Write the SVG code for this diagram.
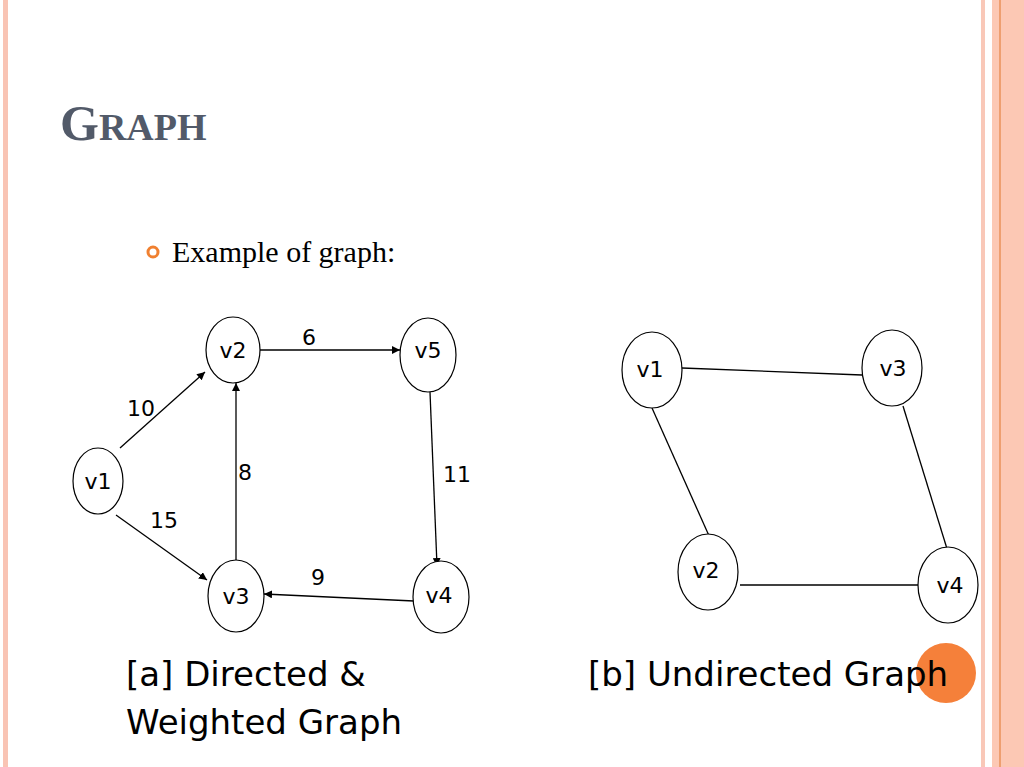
<svg xmlns="http://www.w3.org/2000/svg" width="1024" height="767" viewBox="0 0 1024 767">
<defs>
<style>
.n{fill:#fff;stroke:#000;stroke-width:1.2}
.t{font-family:"DejaVu Sans",sans-serif;font-size:22px;fill:#000}
.e{stroke:#000;stroke-width:1.3;fill:none}
.big{font-family:"DejaVu Sans",sans-serif;font-size:34px;fill:#000}
</style>
<marker id="a" viewBox="0 0 10 10" refX="10" refY="5" markerWidth="8" markerHeight="8" orient="auto" markerUnits="userSpaceOnUse"><path d="M0,0L10,5L0,10z" fill="#000"/></marker>
</defs>
<rect width="1024" height="767" fill="#fff"/>
<rect x="3" y="0" width="5" height="767" fill="#f9c4b4"/>
<rect x="981" y="0" width="4" height="767" fill="#f9c8b8"/>
<rect x="992" y="0" width="32" height="767" fill="#fcc8b4"/>
<rect x="999" y="0" width="2" height="767" fill="#ee9f70"/>
<text x="60" y="140" font-family="Liberation Serif,serif" font-weight="bold" fill="#525a69"><tspan font-size="50">G</tspan><tspan font-size="38">RAPH</tspan></text>
<circle cx="153" cy="252" r="5" fill="none" stroke="#f08030" stroke-width="3"/>
<text x="172" y="262" font-family="Liberation Serif,serif" font-size="30" fill="#000">Example of graph:</text>
<g id="connectors">
<line class="e" x1="120" y1="448" x2="205" y2="372" marker-end="url(#a)"/>
<line class="e" x1="116" y1="515" x2="207" y2="580" marker-end="url(#a)"/>
<line class="e" x1="236" y1="562" x2="236" y2="383" marker-end="url(#a)"/>
<line class="e" x1="260" y1="350" x2="400" y2="350" marker-end="url(#a)"/>
<line class="e" x1="430" y1="392" x2="437" y2="566" marker-end="url(#a)"/>
<line class="e" x1="414" y1="601" x2="264" y2="594" marker-end="url(#a)"/>
<line class="e" x1="682" y1="368" x2="862" y2="375"/>
<line class="e" x1="652" y1="408" x2="710" y2="538"/>
<line class="e" x1="903" y1="406" x2="948" y2="552"/>
<line class="e" x1="740" y1="585" x2="918" y2="585"/>
</g>
<g id="weights" class="t">
<text x="302" y="345">6</text><text x="127" y="416">10</text><text x="238" y="480">8</text>
<text x="150" y="528">15</text><text x="443" y="482">11</text><text x="311" y="585">9</text>
</g>
<g id="a-v2"><ellipse class="n" cx="233" cy="350" rx="27" ry="33"/><text class="t" x="233" y="358" text-anchor="middle">v2</text></g>
<g id="a-v5"><ellipse class="n" cx="428" cy="355" rx="28" ry="37"/><text class="t" x="428" y="358" text-anchor="middle">v5</text></g>
<g id="a-v1"><ellipse class="n" cx="98" cy="481" rx="25" ry="33"/><text class="t" x="98" y="489" text-anchor="middle">v1</text></g>
<g id="a-v3"><ellipse class="n" cx="236" cy="596" rx="28" ry="36"/><text class="t" x="236" y="604" text-anchor="middle">v3</text></g>
<g id="a-v4"><ellipse class="n" cx="441" cy="597" rx="28" ry="36"/><text class="t" x="439" y="603" text-anchor="middle">v4</text></g>
<g id="b-v1"><ellipse class="n" cx="652" cy="370" rx="30" ry="38"/><text class="t" x="650" y="377" text-anchor="middle">v1</text></g>
<g id="b-v3"><ellipse class="n" cx="892" cy="368" rx="30" ry="38"/><text class="t" x="893" y="376" text-anchor="middle">v3</text></g>
<g id="b-v2"><ellipse class="n" cx="708" cy="572" rx="30" ry="38"/><text class="t" x="706" y="578" text-anchor="middle">v2</text></g>
<g id="b-v4"><ellipse class="n" cx="948" cy="585" rx="30" ry="38"/><text class="t" x="950" y="593" text-anchor="middle">v4</text></g>
<circle cx="946" cy="673" r="30" fill="#f5803a"/>
<text class="big" x="126" y="686">[a] Directed &amp;</text>
<text class="big" x="126" y="734">Weighted Graph</text>
<text class="big" x="588" y="686">[b] Undirected Graph</text>
</svg>
